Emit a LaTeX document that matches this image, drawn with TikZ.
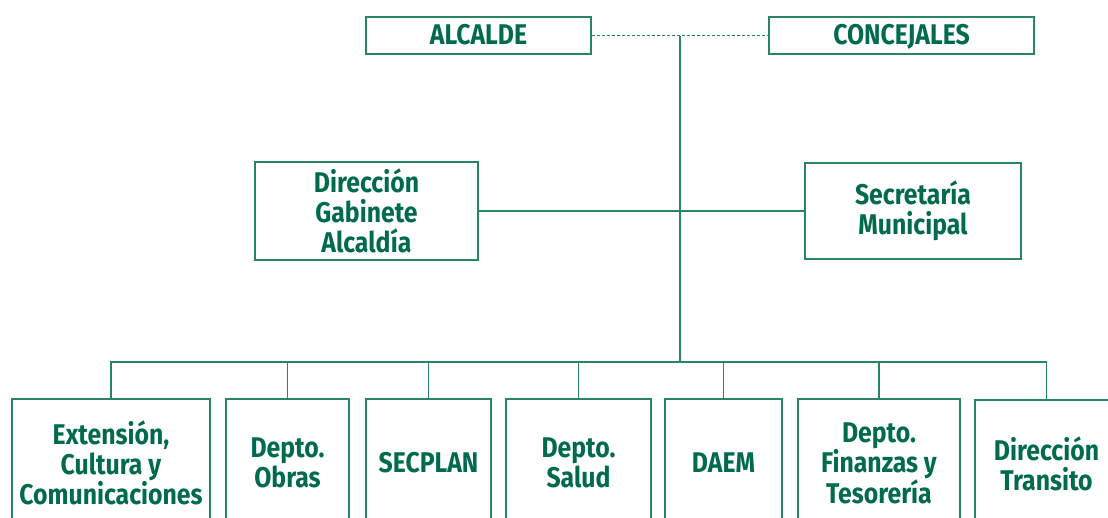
\documentclass[tikz,border=0pt]{standalone}
\usepackage{fontspec}
\setmainfont[FakeStretch=0.87]{Fira Sans}
\usepackage{tikz}
\usepackage{xcolor}
\definecolor{orgtext}{RGB}{0,106,78}
\definecolor{orgline}{RGB}{40,132,102}

\begin{document}
\begin{tikzpicture}[x=1pt,y=-1pt,
    unit/.style={draw=orgline,line width=1.2pt,inner sep=0pt,align=center,
      text=orgtext,font=\bfseries\fontsize{28.5}{30}\selectfont},
    head/.style={unit,minimum height=37,text height=18pt,text depth=0pt},
    link/.style={draw=orgline,line width=1.2pt}]
    \path[use as bounding box,clip] (0,0) rectangle (1108,518);
    % autoridades
    \node[head,minimum width=225] (alc) at (478.5,35.5) {ALCALDE};
    \node[head,minimum width=265] (conc) at (901.5,35.5) {CONCEJALES};
    \draw[link,dash pattern=on 3pt off 2pt] (alc.east) -- (conc.west);
    \coordinate (top) at (680,36); \coordinate (bus) at (680,362);
    \draw[link] (top) -- (bus);
    % staff
    \node[unit,minimum width=223,minimum height=98] (dga) at (366.5,211) {Dirección\\Gabinete\\Alcaldía};
    \node[unit,minimum width=216,minimum height=96] (sm) at (913,211) {Secretaría\\Municipal};
    \draw[link] (dga.east) -- (sm.west);
    % departamentos
    \node[unit,minimum width=198,minimum height=128] (ext) at (111,463) {Extensión,\\Cultura y\\Comunicaciones};
    \node[unit,minimum width=123,minimum height=128] (obr) at (287.5,463) {Depto.\\Obras};
    \node[unit,minimum width=125,minimum height=128] (sec) at (428.5,463) {SECPLAN};
    \node[unit,minimum width=145,minimum height=128] (sal) at (578.5,463) {Depto.\\Salud};
    \node[unit,minimum width=117,minimum height=128] (daem) at (723.5,463) {DAEM};
    \node[unit,minimum width=162,minimum height=128] (fin) at (879,463) {Depto.\\Finanzas y\\Tesorería};
    \node[unit,minimum width=143,minimum height=128] (tra) at (1046.5,464) {Dirección\\Transito};
    \foreach \d in {ext,obr,sec,sal,daem,fin,tra}
      \draw[link] (\d.north) |- (bus);
\end{tikzpicture}
\end{document}
